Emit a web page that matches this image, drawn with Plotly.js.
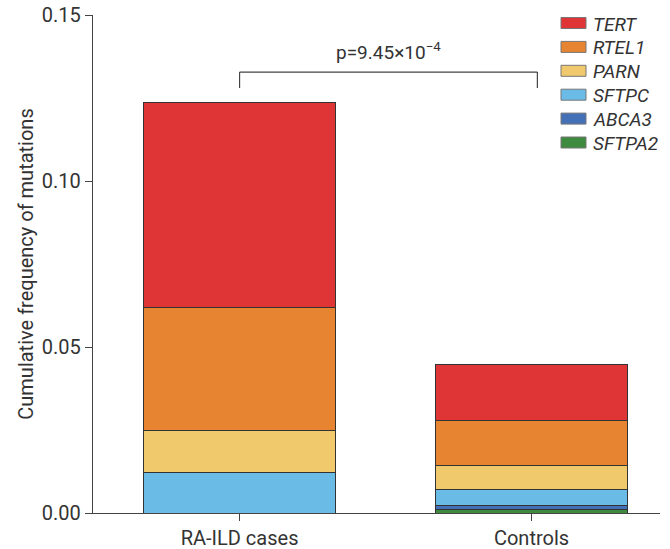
<!DOCTYPE html>
<html>
<head>
<meta charset="utf-8">
<script src="https://cdn.plot.ly/plotly-3.0.1.min.js"></script>
<style>html,body{margin:0;padding:0;background:#fff;}#chart{width:670px;height:549px;}</style>
</head>
<body>
<div id="chart"></div>
<script>
const categories = ["RA-ILD cases", "Controls"];
const genes = ["SFTPA2", "ABCA3", "SFTPC", "PARN", "RTEL1", "TERT"];
const SFTPA2 = [0, 0.0012];
const ABCA3 = [0, 0.0012];
const SFTPC = [0.0123, 0.0048];
const PARN = [0.0125, 0.0070];
const RTEL1 = [0.0370, 0.0138];
const TERT = [0.0617, 0.0166];
const yTickVals = [0, 0.05, 0.10, 0.15];
const yTickText = ["0.00", "0.05", "0.10", "0.15"];
const pText = "p=9.45×10<sup>−4</sup>";

const values = {SFTPA2, ABCA3, SFTPC, PARN, RTEL1, TERT};
const colors = {TERT:"#E03536", RTEL1:"#E68431", PARN:"#F0C96C", SFTPC:"#6BBBE7", ABCA3:"#4470B8", SFTPA2:"#3E8A3E"};

const traces = genes.map(g => ({
  type: "bar",
  name: g,
  x: categories,
  y: values[g],
  marker: {color: colors[g], line: {color: "#333", width: 1}},
  width: 0.66,
  showlegend: false,
  hoverinfo: "y+name"
}));

// plot area in pixels (for legend placement in paper coords)
const L = 93, R = 10, T = 15, B = 36, W = 670, H = 549;
const pw = W - L - R, ph = H - T - B;
const px = v => (v - L) / pw;
const py = v => (H - B - v) / ph;

const legendOrder = ["TERT", "RTEL1", "PARN", "SFTPC", "ABCA3", "SFTPA2"];
const legShapes = [];
const legAnn = [];
legendOrder.forEach((g, i) => {
  const cy = 23 + i * 23.9;
  legShapes.push({type: "rect", xref: "paper", yref: "paper",
    x0: px(561), x1: px(586), y0: py(cy - 5.5), y1: py(cy + 5.5),
    fillcolor: colors[g], line: {color: "#777", width: 1}});
  legAnn.push({xref: "paper", yref: "paper", x: px(591), y: py(cy + 1), xanchor: "left", yanchor: "middle",
    text: "<i>" + g + "</i>", showarrow: false, font: {size: 19, color: "#333"}});
});

const layout = {
  width: W, height: H,
  margin: {l: L, r: R, t: T, b: B},
  barmode: "stack",
  font: {family: "Roboto, 'DejaVu Sans', sans-serif", size: 19, color: "#333"},
  plot_bgcolor: "#fff", paper_bgcolor: "#fff",
  showlegend: false,
  xaxis: {
    range: [-0.502, 1.44],
    showline: true, linecolor: "#444", linewidth: 1.2,
    ticks: "outside", ticklen: 7, tickcolor: "#444",
    tickfont: {size: 20, color: "#333"},
    showgrid: false, zeroline: false, fixedrange: true
  },
  yaxis: {
    range: [0, 0.15],
    tickvals: yTickVals, ticktext: yTickText,
    showline: true, linecolor: "#444", linewidth: 1.2,
    ticks: "outside", ticklen: 7, tickcolor: "#444",
    tickfont: {size: 20, color: "#333"},
    showgrid: false, zeroline: false,
    title: {text: "Cumulative frequency of mutations", font: {size: 20, color: "#333"}, standoff: 2}
  },
  shapes: [
    {type: "line", xref: "x", yref: "y", x0: 0, x1: 1.02, y0: 0.1328, y1: 0.1328, line: {color: "#444", width: 1.2}},
    {type: "line", xref: "x", yref: "y", x0: 0, x1: 0, y0: 0.1328, y1: 0.128, line: {color: "#444", width: 1.2}},
    {type: "line", xref: "x", yref: "y", x0: 1.02, x1: 1.02, y0: 0.1328, y1: 0.128, line: {color: "#444", width: 1.2}}
  ].concat(legShapes),
  annotations: [
    {xref: "x", yref: "y", x: 0.51, y: 0.1328, yshift: 6, text: pText, showarrow: false, yanchor: "bottom", font: {size: 19, color: "#333"}}
  ].concat(legAnn)
};

Plotly.newPlot("chart", traces, layout, {displayModeBar: false, staticPlot: true});
</script>
</body>
</html>
